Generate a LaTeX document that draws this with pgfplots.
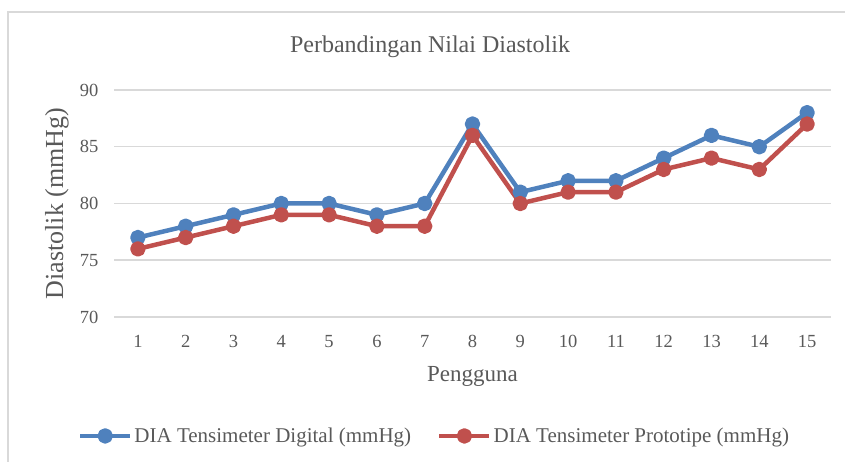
\documentclass[border=0pt]{standalone}
\usepackage{pgfplots}
\pgfplotsset{compat=1.18}
\usepackage{fontspec}
\setmainfont{Liberation Serif}
\definecolor{txt}{HTML}{595959}
\definecolor{bl}{HTML}{4F81BD}
\definecolor{rd}{HTML}{C0504D}
\definecolor{grd}{HTML}{D9D9D9}
\begin{document}
\begin{tikzpicture}[x=1pt,y=1pt]
\useasboundingbox (0,0) rectangle (845,462);
\begin{scope}
\clip (0,0) rectangle (845,462);
\draw[grd, line width=2pt] (8,-10) -- (8,450) -- (860,450);
\end{scope}
\node[txt, font=\fontsize{24}{28}\selectfont] at (430,415) {Perbandingan Nilai Diastolik};
\begin{axis}[
 at={(114pt,145pt)}, anchor=south west, scale only axis, width=717pt, height=227pt,
 xmin=0.5, xmax=15.5, ymin=70, ymax=90,
 xtick={1,...,15}, ytick={70,75,...,90},
 axis line style={draw=none}, major tick style={draw=none},
 ymajorgrids, grid style={grd, line width=1.5pt},
 tick label style={txt, font=\fontsize{18.5}{22}\selectfont},
 xticklabel style={yshift=-15pt},
 yticklabel style={xshift=-12pt},
 /pgf/number format/assume math mode=true,
 xlabel={Pengguna}, ylabel={Diastolik (mmHg)},
 xlabel style={txt, font=\fontsize{23}{26}\selectfont, at={(axis description cs:0.5,-0.26)}, anchor=center},
 ylabel style={txt, font=\fontsize{26}{30}\selectfont, at={(axis description cs:-0.0795,0.5)}, anchor=center},
 legend columns=2,
 legend style={at={(0.447,-0.524)}, anchor=center, draw=none, fill=none,
   font=\fontsize{21}{24}\selectfont, text=txt,
   /tikz/every even column/.append style={column sep=24pt}},
 legend image code/.code={\draw[#1, mark repeat=2, mark phase=2] plot coordinates {(0pt,0pt) (25pt,0pt) (50pt,0pt)};},
 every axis plot/.append style={line width=4.5pt, line join=round, mark=*, mark size=5.5pt, mark options={solid}},
]
\addplot[bl] coordinates {(1,77) (2,78) (3,79) (4,80) (5,80) (6,79) (7,80) (8,87) (9,81) (10,82) (11,82) (12,84) (13,86) (14,85) (15,88)};
\addlegendentry{DIA Tensimeter Digital (mmHg)}
\addplot[rd] coordinates {(1,76) (2,77) (3,78) (4,79) (5,79) (6,78) (7,78) (8,86) (9,80) (10,81) (11,81) (12,83) (13,84) (14,83) (15,87)};
\addlegendentry{DIA Tensimeter Prototipe (mmHg)}
\end{axis}
\end{tikzpicture}
\end{document}
